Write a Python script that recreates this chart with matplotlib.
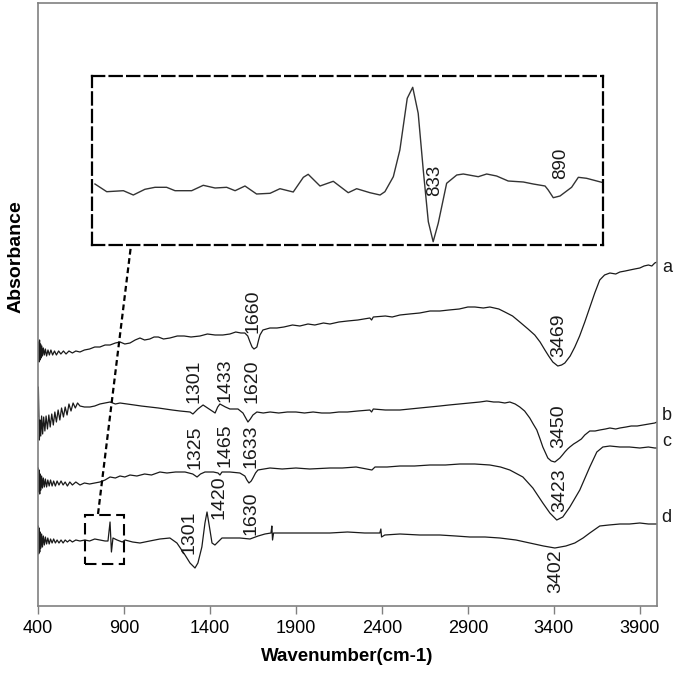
import matplotlib
matplotlib.use("Agg")
import matplotlib.pyplot as plt
from matplotlib.patches import Rectangle

plt.rcParams['font.family'] = ['Liberation Sans', 'DejaVu Sans']

# ---------------- data (wavenumber, absorbance in arbitrary offset units) -------------
wn_a = [400, 403, 406, 409, 412, 415, 418, 422, 426, 431, 437, 443, 450, 458, 466, 475, 485, 496, 507, 520, 533,
        548, 563, 580, 600, 620, 644, 670, 700, 730, 760, 790, 819, 850, 877, 905, 935, 965, 993, 1020, 1050,
        1075, 1100, 1130, 1167, 1210, 1250, 1290, 1342, 1385, 1430, 1475, 1516, 1550, 1580, 1603, 1620, 1633,
        1645, 1656, 1665, 1673, 1683, 1691, 1708, 1749, 1790, 1830, 1880, 1923, 1970, 2010, 2060, 2098, 2150,
        2200, 2260, 2330, 2340, 2350, 2420, 2460, 2505, 2560, 2620, 2680, 2737, 2790, 2850, 2900, 2941, 2990,
        3028, 3080, 3115, 3160, 3202, 3250, 3289, 3320, 3348, 3370, 3394, 3423, 3445, 3464, 3495, 3522, 3550,
        3580, 3610, 3638, 3667, 3695, 3726, 3760, 3784, 3815, 3842, 3870, 3900, 3925, 3950, 3970, 3987, 4000]
abs_a = [252, 264, 244, 266, 246, 262, 248, 260, 250, 258, 251, 257, 250, 256, 251, 256, 251, 255, 251, 255, 252,
         255, 252, 255, 253, 255, 254, 256, 257, 259, 259, 261, 261, 263, 264, 262, 263, 266, 268, 266, 267,
         269, 269, 267, 268, 270, 270, 269, 270, 272, 271, 271, 272, 274, 273, 273, 270, 264,
         259, 257, 258, 259, 266, 271, 276, 278, 278, 279, 281, 280, 282, 281, 283, 282, 284,
         285, 286, 288, 286, 289, 290, 289, 291, 292, 293, 295, 295, 296, 297, 299, 299, 298,
         299, 297, 294, 290, 284, 277, 271, 264, 256, 250, 244, 240, 241, 243, 250, 259, 270,
         284, 299, 313, 326, 331, 333, 332, 334, 335, 336, 337, 338, 340, 341, 340, 343, 344]

wn_b = [400, 402, 405, 408, 412, 416, 421, 427, 433, 440, 447, 455, 463, 471, 480, 489, 498, 507, 517, 527, 537,
        548, 558, 569, 580, 592, 604, 617, 630, 644, 670, 702, 730, 760, 790, 819, 850, 877, 920, 960, 1000,
        1051, 1100, 1140, 1180, 1226, 1284, 1301, 1330, 1360, 1395, 1430, 1445, 1458, 1490, 1516, 1563, 1592,
        1605, 1621, 1635, 1650, 1673, 1710, 1750, 1800, 1850, 1900, 1950, 2000, 2050, 2098, 2150, 2200, 2260,
        2330, 2340, 2350, 2420, 2505, 2560, 2620, 2680, 2737, 2790, 2850, 2910, 2970, 3010, 3050, 3080, 3115,
        3144, 3175, 3202, 3230, 3260, 3280, 3301, 3320, 3336, 3365, 3385, 3406, 3420, 3435, 3450, 3464, 3480,
        3493, 3515, 3534, 3560, 3580, 3609, 3640, 3667, 3700, 3726, 3760, 3784, 3820, 3850, 3885, 3920, 3955,
        3987, 4000]
abs_b = [190, 219, 192, 166, 186, 170, 190, 172, 189, 175, 190, 177, 191, 179, 192, 181, 194, 184, 196, 186, 198,
         189, 199, 191, 202, 195, 203, 198, 203, 200, 199, 199, 200, 202, 203, 204, 202, 203, 202, 201, 200,
         199, 198, 197, 196, 195, 194, 192, 197, 201, 197, 193, 199, 202, 199, 197, 197, 193,
         189, 184, 187, 191, 194, 193, 194, 193, 194, 194, 193, 194, 193, 193, 194, 194, 195,
         196, 194, 197, 196, 196, 197, 198, 199, 200, 201, 202, 203, 204, 205, 204, 204, 203,
         204, 202, 199, 195, 188, 182, 176, 167, 159, 148, 145, 144, 146, 148, 151, 154, 157,
         159, 162, 164, 167, 171, 175, 175, 176, 177, 178, 177, 178, 179, 180, 180, 181, 182,
         183, 184]

wn_c = [400, 402, 404, 407, 410, 413, 417, 421, 426, 431, 437, 443, 450, 457, 465, 473, 482, 491, 501, 511, 522,
        534, 546, 558, 571, 585, 600, 620, 644, 670, 700, 730, 760, 790, 819, 850, 877, 905, 935, 975, 1020,
        1060, 1109, 1150, 1200, 1255, 1300, 1325, 1345, 1371, 1420, 1447, 1458, 1470, 1516, 1574, 1603, 1615,
        1627, 1640, 1650, 1665, 1679, 1749, 1820, 1900, 1980, 2098, 2170, 2250, 2342, 2360, 2430, 2505, 2590,
        2680, 2770, 2853, 2940, 3028, 3090, 3144, 3220, 3278, 3336, 3377, 3417, 3452, 3493, 3551, 3609, 3650,
        3685, 3726, 3784, 3840, 3900, 3950, 3987, 4000]
abs_c = [124, 138, 114, 136, 112, 132, 116, 130, 118, 128, 119, 127, 119, 126, 120, 126, 120, 125, 120, 125, 121,
         125, 121, 124, 120, 124, 121, 124, 121, 123, 122, 123, 124, 126, 129, 128, 130, 129, 131, 130, 132,
         131, 134, 133, 134, 134, 132, 129, 132, 134, 134, 133, 131, 134, 134, 133, 130, 126,
         123, 125, 128, 133, 136, 138, 137, 138, 137, 138, 138, 139, 136, 139, 139, 140, 140,
         141, 141, 142, 142, 141, 139, 136, 129, 118, 103, 93, 86, 89, 99, 116, 139, 154,
         159, 160, 159, 159, 158, 159, 158, 158]

wn_d = [400, 402, 404, 407, 410, 413, 417, 421, 426, 431, 437, 443, 450, 457, 465, 473, 482, 491, 501, 511, 522,
        534, 546, 558, 571, 585, 600, 620, 644, 673, 700, 730, 760, 790, 807, 819, 827, 836, 860, 890, 906,
        950, 993, 1050, 1109, 1167, 1208, 1255, 1284, 1313, 1330, 1353, 1371, 1383, 1400, 1412, 1429, 1470,
        1530, 1574, 1633, 1680, 1720, 1755, 1760, 1764, 1770, 1807, 1900, 2000, 2098, 2200, 2300, 2388, 2394,
        2398, 2417, 2505, 2620, 2737, 2830, 2912, 3000, 3086, 3180, 3260, 3340, 3406, 3470, 3522, 3570, 3609,
        3667, 3720, 3784, 3840, 3900, 3950, 3987, 4000]
abs_d = [66, 80, 52, 78, 54, 74, 58, 72, 59, 70, 61, 69, 62, 68, 62, 67, 63, 67, 63, 66, 63,
         66, 63, 66, 64, 66, 64, 66, 65, 66, 65, 67, 66, 65, 65, 84, 54, 68, 66, 64, 66,
         64, 63, 65, 67, 68, 63, 51, 43, 38, 43, 59, 83, 94, 76, 63, 61, 68,
         68, 68, 67, 70, 72, 73, 80, 66, 73, 73, 73, 73, 73, 74, 73, 73, 77,
         69, 71, 72, 71, 71, 70, 69, 69, 68, 66, 63, 60, 58, 60, 63, 68, 73,
         80, 81, 82, 82, 83, 82, 82, 82]

# inset: enlarged part of spectrum d
wn_inset = [671.4, 677.0, 684.9, 689.6, 695.1, 699.9, 705.4, 709.4, 717.3, 722.8, 728.4, 733.9, 737.9, 742.6,
            748.1, 754.5, 759.2, 765.5, 770.3, 772.6, 778.2, 784.5, 791.6, 795.6, 801.9, 806.7, 809.0, 813.0,
            816.1, 819.6, 822.2, 824.8, 827.2, 829.6, 831.9, 834.3, 838.3, 843.1, 846.2, 853.3, 857.3, 862.0,
            867.5, 874.7, 879.4, 885.0, 886.5, 888.9, 892.1, 897.6, 900.8, 904.7, 911.9]
abs_inset = [61, 53.3, 54.3, 50, 55.7, 57.7, 57.7, 54.3, 54.3, 59.7, 57, 57.7, 54.3, 59,
             51, 51.7, 56.3, 53, 67.7, 70.7, 59, 63.7, 52.3, 56.3, 52.3, 50, 53.3, 68.3,
             95, 146.7, 157.7, 131.7, 75, 23.3, 3.3, 21.7, 61.7, 70, 71, 68.3, 71, 69,
             64, 63, 61, 59, 55, 47.3, 49, 57.7, 67.7, 66.7, 62.7]

peak_labels = ["1660", "3469", "1301", "1433", "1620", "3450", "1325", "1465", "1633",
               "1420", "1630", "1301", "3423", "3402"]
peak_x = [1650, 3429, 1307, 1488, 1644, 3429, 1313, 1488, 1638, 1452, 1638, 1278, 3435, 3412]
peak_y = [295, 271, 225, 226, 225, 180, 159, 161, 160, 109, 93, 74, 116, 35]

inset_labels = ["833", "890"]
inset_lx = [832.8, 892.5]
inset_ly = [65, 82]

series_names = ["a", "b", "c", "d"]
series_name_y = [339, 190, 164, 89]

xticks = [400, 900, 1400, 1900, 2400, 2900, 3400, 3900]

# ---------------- figure -------------
fig = plt.figure(figsize=(6.75, 6.75), dpi=100)
ax = fig.add_axes([38 / 675, 69 / 675, 619 / 675, 603 / 675])
ax.set_xlim(400, 4000)
ax.set_ylim(0, 603)

for wn, ab in [(wn_a, abs_a), (wn_b, abs_b), (wn_c, abs_c), (wn_d, abs_d)]:
    ax.plot(wn, ab, color='#1a1a1a', lw=0.9)

for lab, x, y in zip(peak_labels, peak_x, peak_y):
    ax.text(x, y, lab, rotation=90, ha='center', va='center', fontsize=14, color='#1a1a1a')

for name, y in zip(series_names, series_name_y):
    ax.text(4057, y, name, ha='center', va='center', fontsize=13, color='#1a1a1a', clip_on=False)

# small dashed box marking the enlarged region
ax.add_patch(Rectangle((673, 42), 227, 49, fill=False, edgecolor='black', lw=1.5,
                       linestyle=(0, (5.5, 2.6))))
# connector line to the inset
ax.plot([749, 941], [92, 361], color='black', lw=1.6, linestyle=(0, (2.6, 1.6)))

ax.set_xticks(xticks)
ax.set_xticklabels([str(t) for t in xticks], fontsize=13)
ax.set_yticks([])
ax.tick_params(axis='x', direction='out', length=6, width=1, color='#808080', pad=4)
for sp in ax.spines.values():
    sp.set_color('#808080')
    sp.set_linewidth(1.2)
ax.set_xlabel("Wavenumber(cm-1)", fontsize=13.5, fontweight='bold', labelpad=8)
ax.set_ylabel("Absorbance", fontsize=14, fontweight='bold')
ax.yaxis.set_label_coords(-0.022, 0.58)

# inset
axi = fig.add_axes([92 / 675, 430 / 675, 511 / 675, 169 / 675])
axi.set_xlim(670, 912.5)
axi.set_ylim(0, 169)
axi.plot(wn_inset, abs_inset, color='#333333', lw=1.0)
for lab, x, y in zip(inset_labels, inset_lx, inset_ly):
    axi.text(x, y, lab, rotation=90, ha='center', va='center', fontsize=13.5, color='#1a1a1a')
axi.set_xticks([])
axi.set_yticks([])
axi.patch.set_alpha(0)
for sp in axi.spines.values():
    sp.set_color('black')
    sp.set_linewidth(1.6)
    sp.set_linestyle((0, (5.5, 2.4)))

fig.savefig("out.png", dpi=100)
